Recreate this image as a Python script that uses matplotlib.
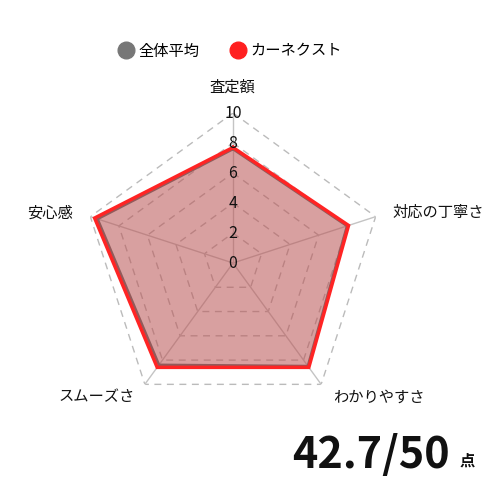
import numpy as np
import matplotlib
matplotlib.use("Agg")
import matplotlib.pyplot as plt
from matplotlib.lines import Line2D

plt.rcParams["font.family"] = ["Noto Sans CJK JP", "DejaVu Sans"]

categories = ["査定額", "対応の丁寧さ", "わかりやすさ", "スムーズさ", "安心感"]
avg_scores = [7.6, 8.0, 8.5, 8.4, 9.5]
carnext_scores = [7.7, 8.1, 8.6, 8.6, 9.7]
series_names = ["全体平均", "カーネクスト"]
r_ticks = [0, 2, 4, 6, 8, 10]
max_score = 50

n = len(categories)
theta = np.linspace(0, 2 * np.pi, n, endpoint=False)
theta_c = np.append(theta, theta[0])

fig = plt.figure(figsize=(5, 5), dpi=100)
ax = fig.add_axes([0.166, 0.174, 0.6, 0.6], projection="polar")
ax.set_theta_offset(np.pi / 2)
ax.set_theta_direction(-1)
ax.set_ylim(0, 10)
ax.grid(False)
ax.spines["polar"].set_visible(False)
ax.set_xticks([])
ax.set_yticks([])
ax.patch.set_alpha(0)

# pentagon grid
for r in r_ticks[1:]:
    ax.plot(theta_c, [r] * (n + 1), color="#bbbbbb", lw=1, ls=(0, (5, 4)), zorder=1)
for t in theta:
    ax.plot([t, t], [0, 10], color="#c4c4c4", lw=1, zorder=1)

# series
avg_c = avg_scores + avg_scores[:1]
car_c = carnext_scores + carnext_scores[:1]
ax.fill(theta_c, avg_c, color="#808080", alpha=0.4, lw=0, zorder=2)
ax.plot(theta_c, avg_c, color="#6e6e6e", lw=2, zorder=3)
ax.fill(theta_c, car_c, color="#ff2020", alpha=0.25, lw=0, zorder=4)
ax.plot(theta_c, car_c, color="#ff2424", lw=2.5, zorder=5, solid_joinstyle="miter")

for r in r_ticks:
    ax.text(0, r, str(r), ha="center", va="center", fontsize=11.5, color="#111111", zorder=6)

# category labels
label_pos = [(0.464, 0.825, "center"), (0.784, 0.576, "left"), (0.757, 0.206, "center"),
             (0.194, 0.206, "center"), (0.146, 0.574, "right")]
for cat, (x, y, ha) in zip(categories, label_pos):
    fig.text(x, y, cat, ha=ha, va="center", fontsize=11, color="#111111")

handles = [
    Line2D([], [], ls="", marker="o", markersize=12, color="#777777"),
    Line2D([], [], ls="", marker="o", markersize=12, color="#ff2020"),
]
fig.legend(handles, series_names, loc="center", bbox_to_anchor=(0.46, 0.898), ncol=2,
           frameon=False, fontsize=11, handletextpad=0.3, columnspacing=2.0,
           handlelength=1.0)

total = sum(carnext_scores)
fig.text(0.9, 0.09, f"{total:.1f}/{max_score}", ha="right", va="center",
         fontsize=31, fontweight="bold", color="#111111")
fig.text(0.935, 0.079, "点", ha="center", va="center", fontsize=11,
         fontweight="bold", color="#111111")

fig.savefig("out.png", dpi=100, facecolor="white")
